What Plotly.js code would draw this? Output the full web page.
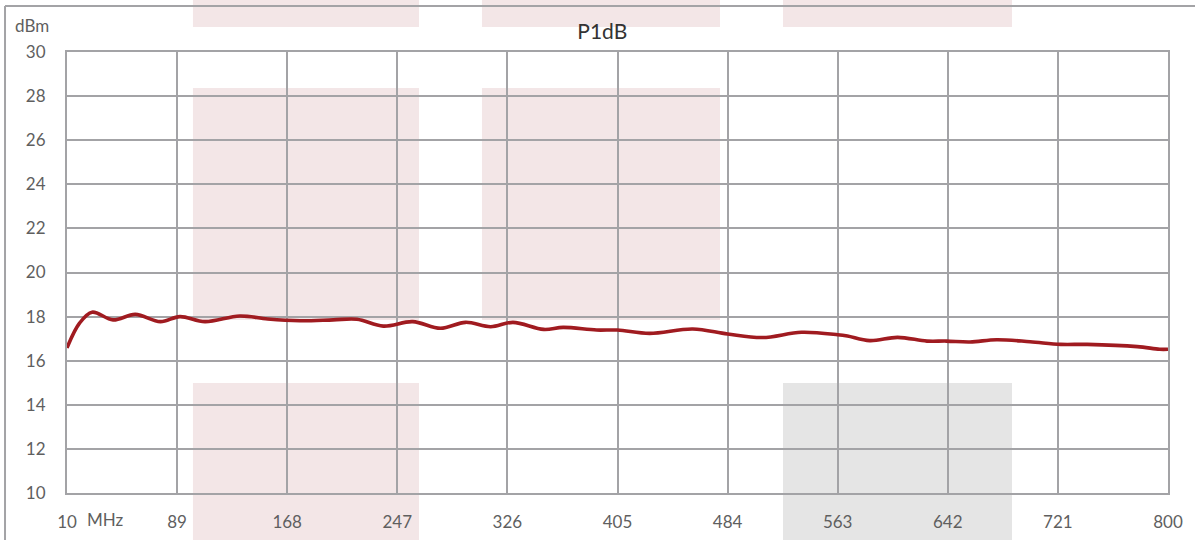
<!DOCTYPE html>
<html>
<head>
<meta charset="utf-8">
<script src="https://cdn.plot.ly/plotly-3.0.1.min.js"></script>
<style>
  html, body { margin: 0; padding: 0; background: #ffffff; }
  #chart { width: 1195px; height: 540px; }
</style>
</head>
<body>
<div id="chart"></div>
<script>
// ---- data ----
const freqMHz = [10, 19, 28, 43, 59, 77, 91, 109, 134, 154, 177, 201, 218, 237, 258, 278, 296, 314, 330, 352, 366, 390, 405, 428, 459, 484, 509, 537, 563, 570, 586, 606, 627, 641, 658, 677, 701, 723, 742, 778, 794, 800];
const p1dB = [16.58, 17.7, 18.2, 17.85, 18.1, 17.77, 18.0, 17.77, 18.03, 17.89, 17.81, 17.85, 17.88, 17.57, 17.77, 17.47, 17.74, 17.54, 17.74, 17.42, 17.51, 17.39, 17.39, 17.24, 17.44, 17.21, 17.05, 17.29, 17.18, 17.12, 16.91, 17.06, 16.89, 16.89, 16.85, 16.95, 16.86, 16.74, 16.74, 16.64, 16.52, 16.52];
const xTickVals = [10, 89, 168, 247, 326, 405, 484, 563, 642, 721, 800];
const xTickText = ['10', '89', '168', '247', '326', '405', '484', '563', '642', '721', '800'];
const yTickVals = [10, 12, 14, 16, 18, 20, 22, 24, 26, 28, 30];
const chartTitle = 'P1dB';
const yUnit = 'dBm';
const xUnit = 'MHz';

// ---- styling ----
const gridColor = '#a3a3a6';
const labelColor = '#5f5f5f';
const pink = '#f3e6e7';
const grey = '#e5e5e5';
const fontFamily = 'Lato, "Open Sans", "DejaVu Sans", sans-serif';

function rect(x0, x1, y0, y1, color) {
  return { type: 'rect', xref: 'paper', yref: 'paper', x0: x0, x1: x1, y0: y0, y1: y1,
           fillcolor: color, line: { width: 0 }, layer: 'below' };
}

const shapes = [
  rect(0.1144, 0.3197, 1.0567, 1.1179, pink),
  rect(0.3769, 0.5931, 1.0567, 1.1179, pink),
  rect(0.6503, 0.8583, 1.0567, 1.1179, pink),
  rect(0.1144, 0.3197, 0.3923, 0.9184, pink),
  rect(0.3769, 0.5931, 0.3923, 0.9184, pink),
  rect(0.1144, 0.3197, -0.2, 0.2494, pink),
  rect(0.6503, 0.8583, -0.2, 0.2494, grey),
  { type: 'line', xref: 'paper', yref: 'paper', x0: -0.0563, x1: -0.0563, y0: -0.2, y1: 1.1043,
    line: { color: gridColor, width: 2 }, layer: 'above' },
  { type: 'line', xref: 'paper', yref: 'paper', x0: -0.0563, x1: 1.1, y0: 1.1043, y1: 1.1043,
    line: { color: gridColor, width: 2 }, layer: 'above' }
];

const trace = {
  x: freqMHz,
  y: p1dB,
  type: 'scatter',
  mode: 'lines',
  line: { color: '#a01b20', width: 3.6, shape: 'spline', smoothing: 1 },
  hoverinfo: 'x+y'
};

const layout = {
  width: 1195,
  height: 540,
  margin: { l: 67, r: 27, t: 52, b: 47 },
  paper_bgcolor: '#ffffff',
  plot_bgcolor: 'rgba(0,0,0,0)',
  showlegend: false,
  font: { family: fontFamily, color: labelColor, size: 17 },
  title: {
    text: chartTitle,
    font: { family: fontFamily, size: 21, color: '#333333' },
    x: 0.504, xanchor: 'center', xref: 'container',
    y: 1 - 32 / 540, yanchor: 'middle', yref: 'container'
  },
  xaxis: {
    range: [10, 800],
    tickmode: 'array',
    tickvals: xTickVals,
    ticktext: xTickText,
    showgrid: true,
    gridcolor: gridColor,
    gridwidth: 2,
    showline: true,
    linecolor: gridColor,
    linewidth: 2,
    mirror: true,
    zeroline: false,
    ticks: 'outside',
    ticklen: 13,
    tickcolor: 'rgba(0,0,0,0)',
    tickfont: { family: fontFamily, size: 17, color: labelColor }
  },
  yaxis: {
    range: [10, 30],
    tickmode: 'array',
    tickvals: yTickVals,
    showgrid: true,
    gridcolor: gridColor,
    gridwidth: 2,
    showline: true,
    linecolor: gridColor,
    linewidth: 2,
    mirror: true,
    zeroline: false,
    ticks: 'outside',
    ticklen: 16,
    tickcolor: 'rgba(0,0,0,0)',
    tickfont: { family: fontFamily, size: 17, color: labelColor }
  },
  shapes: shapes,
  annotations: [
    { text: yUnit, xref: 'paper', yref: 'paper', x: -0.0318, y: 1.059,
      xanchor: 'center', yanchor: 'middle', showarrow: false,
      font: { family: fontFamily, size: 17, color: labelColor } },
    { text: xUnit, xref: 'paper', yref: 'paper', x: 0.0354, y: -0.0612,
      xanchor: 'center', yanchor: 'middle', showarrow: false,
      font: { family: fontFamily, size: 17, color: labelColor } }
  ]
};

Plotly.newPlot('chart', [trace], layout, { displayModeBar: false, staticPlot: true });
</script>
</body>
</html>
